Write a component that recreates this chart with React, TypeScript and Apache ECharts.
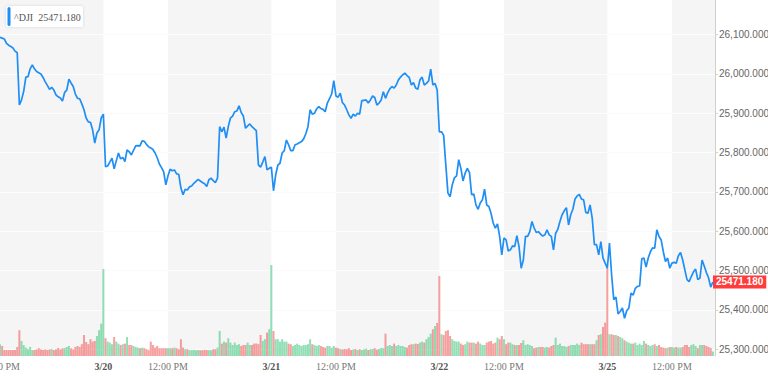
import React, { useEffect, useRef } from "react";
import * as echarts from "echarts";

// ---- data ----
const tradingDays = ["3/19", "3/20", "3/21", "3/22", "3/25"];
const firstSlot = "12:00"; // first bar shown on 3/19
const lastSlot = "13:40"; // last slot on the axis on 3/25
const priceTicks = [25300, 25400, 25500, 25600, 25700, 25800, 25900, 26000, 26100];
const symbolName = "^DJI";

// 5-minute closes of ^DJI, from 3/19 12:00 PM
const dji = [
  26093, 26091, 26089, 26078, 26073, 26070, 26066, 26058, 26054, 25921,
  25934, 25956, 25992, 25993, 26013, 26023, 26013, 26006, 26003, 26000,
  25991, 25980, 25971, 25961, 25966, 25959, 25947, 25942, 25939, 25931,
  25953, 25959, 25987, 25977, 25968, 25949, 25938, 25937, 25924, 25909,
  25888, 25878, 25877, 25858, 25824, 25850, 25858, 25888, 25898, 25764,
  25766, 25776, 25786, 25759, 25779, 25799, 25784, 25788, 25777, 25807,
  25802, 25794, 25806, 25817, 25818, 25817, 25830, 25829, 25821, 25815,
  25812, 25808, 25799, 25787, 25771, 25762, 25751, 25718, 25741, 25758,
  25754, 25756, 25746, 25745, 25710, 25693, 25707, 25705, 25713, 25715,
  25722, 25727, 25732, 25728, 25724, 25721, 25714, 25731, 25735, 25729,
  25724, 25735, 25866, 25853, 25865, 25837, 25866, 25888, 25893, 25904,
  25906, 25919, 25902, 25893, 25862, 25868, 25873, 25866, 25861, 25856,
  25769, 25763, 25776, 25790, 25756, 25760, 25763, 25703, 25743, 25768,
  25773, 25799, 25805, 25832, 25820, 25805, 25805, 25820, 25822, 25825,
  25828, 25835, 25848, 25866, 25909, 25898, 25900, 25911, 25917, 25912,
  25910, 25904, 25926, 25937, 25949, 25983, 25944, 25941, 25951, 25927,
  25921, 25909, 25896, 25887, 25898, 25893, 25900, 25898, 25932, 25933,
  25934, 25926, 25934, 25944, 25940, 25921, 25926, 25934, 25955, 25938,
  25952, 25962, 25968, 25964, 25972, 25985, 25992, 25998, 26002, 25996,
  25991, 25972, 25978, 25964, 25961, 25985, 25992, 25972, 25976, 25982,
  26012, 25972, 25976, 25959, 25853, 25853, 25844, 25769, 25697, 25688,
  25718, 25736, 25741, 25782, 25760, 25728, 25748, 25760, 25749, 25693,
  25695, 25667, 25656, 25672, 25680, 25707, 25667, 25663, 25646, 25621,
  25608, 25619, 25587, 25540, 25583, 25578, 25550, 25553, 25563, 25561,
  25589, 25561, 25506, 25527, 25587, 25587, 25599, 25625, 25609, 25597,
  25599, 25593, 25588, 25591, 25604, 25591, 25587, 25553, 25595, 25605,
  25625, 25642, 25652, 25660, 25616, 25642, 25656, 25682, 25690, 25694,
  25682, 25680, 25648, 25646, 25667, 25633, 25566, 25566, 25540, 25574,
  25532, 25519, 25506, 25570, 25489, 25426, 25433, 25390, 25396, 25405,
  25379, 25398, 25405, 25443, 25438, 25455, 25460, 25461, 25530, 25532,
  25509, 25532, 25548, 25558, 25557, 25604, 25587, 25578, 25548, 25523,
  25532, 25506, 25519, 25521, 25519, 25538, 25546, 25527, 25502, 25477,
  25472, 25485, 25497, 25504, 25477, 25481, 25527, 25512, 25495, 25482,
  25458, 25471.18,
];

// 5-minute volume (millions)
const volume = [
  5.9, 5.0, 3.0, 3.0, 3.0, 3.0, 3.0, 3.0, 4.5, 12.9,
  7.5, 5.5, 4.2, 3.4, 4.5, 3.0, 3.0, 3.3, 3.9, 3.3,
  3.0, 3.3, 3.0, 3.3, 3.5, 3.0, 3.3, 4.0, 3.3, 3.8,
  4.0, 4.5, 5.0, 3.8, 3.3, 4.5, 5.0, 4.5, 5.9, 10.5,
  7.0, 5.9, 8.4, 7.2, 7.5, 10.0, 12.9, 16.2, 43.5, 8.9,
  7.2, 6.7, 5.9, 9.5, 7.2, 6.2, 5.5, 5.9, 6.2, 9.5,
  5.5, 5.5, 5.0, 4.5, 4.2, 3.9, 4.2, 3.9, 3.4, 2.9,
  7.2, 5.5, 4.2, 5.0, 3.9, 3.9, 3.9, 3.9, 3.9, 3.9,
  3.9, 4.2, 3.9, 3.4, 8.4, 4.2, 3.4, 3.4, 2.9, 2.9,
  3.1, 2.9, 3.0, 2.9, 2.9, 3.1, 3.0, 2.9, 2.9, 3.4,
  3.4, 4.2, 12.5, 6.2, 7.2, 6.7, 8.9, 6.7, 5.5, 6.7,
  5.5, 5.9, 5.0, 5.5, 5.5, 6.7, 5.5, 5.5, 6.2, 6.2,
  5.9, 10.5, 7.5, 8.4, 11.7, 13.4, 45.5, 12.5, 8.4, 8.4,
  7.2, 8.4, 7.2, 7.2, 6.2, 5.9, 5.0, 5.5, 6.2, 5.5,
  5.0, 5.5, 5.5, 5.9, 8.4, 5.9, 5.5, 5.0, 5.5, 5.0,
  4.5, 4.2, 5.0, 5.0, 4.2, 5.0, 4.2, 3.9, 3.5, 3.3,
  3.5, 3.4, 3.9, 3.0, 3.3, 3.5, 3.0, 3.4, 3.0, 3.3,
  3.7, 3.0, 3.4, 3.5, 3.9, 3.2, 3.5, 4.0, 3.9, 11.2,
  5.0, 5.5, 5.0, 6.2, 5.0, 5.5, 5.0, 5.0, 4.5, 4.2,
  5.5, 5.9, 5.9, 6.2, 6.0, 6.7, 7.2, 6.7, 8.4, 9.5,
  11.2, 13.4, 15.0, 16.5, 40.0, 10.9, 10.5, 12.5, 12.9, 10.0,
  8.4, 7.5, 7.2, 7.2, 6.2, 5.5, 5.9, 7.2, 6.7, 6.7,
  6.7, 6.2, 7.2, 6.2, 5.5, 5.5, 6.7, 7.2, 7.5, 6.2,
  6.7, 9.2, 8.4, 10.0, 8.4, 5.9, 6.7, 6.7, 5.9, 5.5,
  5.5, 5.5, 6.5, 7.9, 5.5, 5.9, 5.5, 5.0, 3.9, 4.2,
  4.5, 4.5, 4.5, 4.2, 4.5, 4.2, 5.0, 5.5, 9.2, 5.5,
  6.2, 5.0, 5.0, 4.5, 5.0, 5.5, 5.5, 5.5, 6.2, 5.5,
  6.7, 5.9, 5.9, 5.9, 5.9, 5.9, 5.9, 7.9, 10.5, 10.9,
  14.5, 16.7, 44.0, 10.9, 10.9, 10.5, 10.5, 10.0, 9.5, 8.9,
  7.9, 7.2, 6.7, 6.2, 6.2, 6.7, 5.5, 6.2, 5.5, 7.5,
  6.2, 5.5, 5.0, 5.5, 5.9, 5.0, 5.5, 4.5, 4.2, 3.9,
  4.2, 4.5, 4.5, 4.2, 4.5, 4.2, 4.2, 4.5, 5.5, 5.5,
  4.5, 5.5, 5.9, 5.0, 3.9, 5.5, 5.5, 5.5, 5.0, 4.5,
  4.0, 2.2,
];

// ---- helpers ----
function buildSlots(): string[] {
  const out: string[] = [];
  tradingDays.forEach((d, di) => {
    for (let m = 9 * 60 + 30; m < 16 * 60; m += 5) {
      const t = `${String(Math.floor(m / 60)).padStart(2, "0")}:${String(m % 60).padStart(2, "0")}`;
      if (di === 0 && t < firstSlot) continue;
      if (di === tradingDays.length - 1 && t > lastSlot) continue;
      out.push(`${d} ${t}`);
    }
  });
  return out;
}

const SANS = "'Liberation Sans', Arial, Helvetica, sans-serif";
const SERIF = "'Liberation Serif', 'Times New Roman', serif";
const BLUE = "#1f8ef5";

export default function App() {
  const ref = useRef<HTMLDivElement>(null);

  useEffect(() => {
    document.body.style.margin = "0";
    if (!ref.current) return;
    const chart = echarts.init(ref.current, undefined, { renderer: "svg" });

    const cats = buildSlots();
    const last = dji[dji.length - 1];

    // afternoon (12:00 PM -> next open) shaded bands
    const bands: any[] = [];
    cats.forEach((c, i) => {
      if (c.endsWith("12:00")) {
        let j = i + 1;
        while (j < cats.length && !cats[j].endsWith("09:30")) j++;
        if (j >= cats.length) j = cats.length - 1;
        bands.push([{ xAxis: cats[i] }, { xAxis: cats[j] }]);
      }
    });

    const volData = volume.map((v, i) => {
      const up = i === 0 ? true : dji[i] >= dji[i - 1];
      return {
        value: v,
        itemStyle: { color: up ? "rgba(56,196,120,0.55)" : "rgba(240,96,96,0.6)" },
      };
    });

    const fmt = (v: number) =>
      v.toLocaleString("en-US", { minimumFractionDigits: 3, maximumFractionDigits: 3 });

    // faint lighter grid lines that show over the shaded bands
    const bandGridLines = priceTicks.map((v) => ({
      yAxis: v,
      label: { show: false },
      lineStyle: { color: "rgba(255,255,255,0.75)", width: 1, type: "solid" },
    }));

    chart.setOption({
      animation: false,
      grid: {
        left: 0,
        right: 53,
        top: 0,
        bottom: 22,
        containLabel: false,
        outerBoundsMode: "none",
      },
      xAxis: {
        type: "category",
        data: cats,
        boundaryGap: false,
        axisLine: { show: false },
        axisTick: { show: false },
        splitLine: { show: false },
        axisLabel: {
          interval: (_i: number, v: string) => v.endsWith("09:30") || v.endsWith("12:00"),
          formatter: (v: string) =>
            v.endsWith("09:30") ? `{d|${v.split(" ")[0]}}` : "{t|12:00 PM}",
          margin: 5,
          rich: {
            d: { fontFamily: SERIF, fontSize: 10, fontWeight: "bold", color: "#555" },
            t: { fontFamily: SERIF, fontSize: 10, color: "#777" },
          },
        },
      },
      yAxis: [
        {
          type: "value",
          position: "right",
          min: 25283,
          max: 26188,
          minInterval: 100,
          maxInterval: 100,
          axisLine: { show: true, lineStyle: { color: "#cfcfcf", width: 1 } },
          axisTick: {
            show: true,
            length: 3,
            customValues: priceTicks,
            lineStyle: { color: "#cfcfcf" },
          },
          axisLabel: {
            customValues: priceTicks,
            formatter: fmt,
            fontSize: 10,
            fontFamily: SANS,
            color: "#666",
            margin: 4,
          },
          splitLine: { show: true, lineStyle: { color: "#ececec", width: 1 } },
        },
        { type: "value", min: 0, max: 178, show: false },
      ],
      series: [
        {
          type: "bar",
          yAxisIndex: 1,
          data: volData,
          barWidth: 2,
          silent: true,
          z: 2,
        },
        {
          type: "line",
          data: dji,
          symbol: "none",
          showSymbol: false,
          silent: true,
          z: 3,
          lineStyle: { color: BLUE, width: 1.7 },
          markArea: {
            silent: true,
            itemStyle: { color: "#f5f5f5" },
            data: bands,
          },
          markLine: {
            silent: true,
            z: 1.5,
            symbol: ["none", "none"],
            lineStyle: { color: "transparent", width: 0 },
            data: [
              ...bandGridLines,
              {
                yAxis: last,
                lineStyle: { color: "transparent", width: 0 },
                label: {
                  show: true,
                  position: "end",
                  distance: -2,
                  formatter: last.toFixed(3),
                  backgroundColor: "#ff3b3b",
                  color: "#fff",
                  fontWeight: "bold",
                  fontSize: 10,
                  fontFamily: SANS,
                  padding: [2, 3, 1, 3],
                },
              },
            ],
          },
        },
      ],
      graphic: [
        {
          type: "rect",
          z: 100,
          shape: { x: 6, y: 6, width: 77, height: 21, r: 2 },
          style: { fill: "#ffffff", shadowBlur: 3, shadowColor: "rgba(0,0,0,0.12)" },
        },
        {
          type: "rect",
          z: 101,
          shape: { x: 7.5, y: 7, width: 3, height: 19, r: 1.5 },
          style: { fill: BLUE },
        },
        {
          type: "text",
          z: 101,
          x: 14,
          y: 17,
          style: {
            text: `${symbolName}  ${last.toFixed(3)}`,
            fontFamily: SERIF,
            fontSize: 10,
            fill: "#555",
            verticalAlign: "middle",
          },
        },
      ],
    });

    return () => chart.dispose();
  }, []);

  return <div ref={ref} style={{ width: 768, height: 378 }} />;
}
